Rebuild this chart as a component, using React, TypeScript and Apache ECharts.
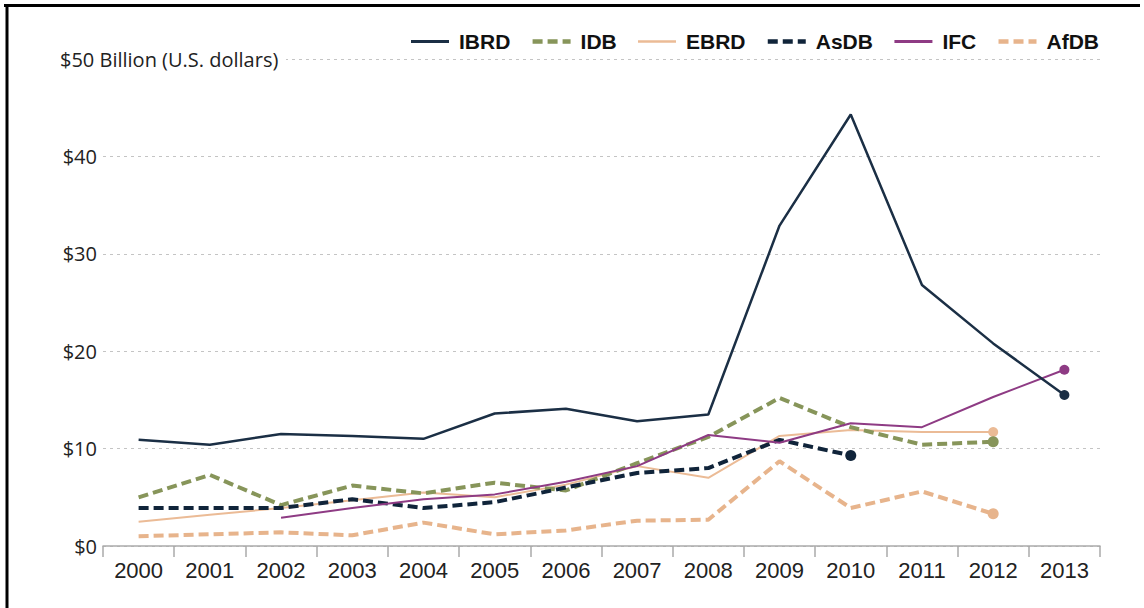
import React, { useEffect, useRef } from "react";
import * as echarts from "echarts";

const years = ["2000", "2001", "2002", "2003", "2004", "2005", "2006", "2007", "2008", "2009", "2010", "2011", "2012", "2013"];
const ibrd = [10.9, 10.4, 11.5, 11.3, 11.0, 13.6, 14.1, 12.8, 13.5, 32.9, 44.3, 26.8, 20.8, 15.5];
const idb = [5.0, 7.3, 4.2, 6.2, 5.4, 6.5, 5.7, 8.5, 11.2, 15.2, 12.2, 10.4, 10.7, null];
const ebrd = [2.5, 3.2, 3.9, 4.7, 5.5, 5.0, 6.3, 8.2, 7.0, 11.3, 11.9, 11.7, 11.7, null];
const asdb = [3.9, 3.9, 3.9, 4.8, 3.9, 4.5, 6.0, 7.5, 8.0, 10.9, 9.3, null, null, null];
const ifc = [null, null, 2.9, 3.9, 4.8, 5.3, 6.6, 8.2, 11.4, 10.6, 12.6, 12.2, 15.3, 18.1];
const afdb = [1.0, 1.2, 1.4, 1.1, 2.4, 1.2, 1.6, 2.6, 2.7, 8.7, 3.9, 5.6, 3.3, null];

const yMin = 0;
const yMax = 50;
const yStep = 10;
const yTitle = "$50 Billion (U.S. dollars)";

const SANS = '"Liberation Sans", Arial, sans-serif';
const REG = '"Open Sans", "Liberation Sans", sans-serif';

function withEndDot(arr: (number | null)[], size: number) {
  let last = -1;
  arr.forEach((v, i) => {
    if (v != null) last = i;
  });
  return arr.map((v, i) =>
    i === last ? { value: v, symbol: "circle", symbolSize: size } : v
  );
}

function mk(name: string, data: (number | null)[], color: string, width: number, dashed: boolean, z: number) {
  return {
    name,
    type: "line",
    data: withEndDot(data, dashed ? 11 : 10),
    symbol: "none",
    showSymbol: true,
    connectNulls: false,
    z,
    lineStyle: { color, width, type: dashed ? [10, 5] : "solid", cap: "butt" },
    itemStyle: { color },
    emphasis: { disabled: true },
  };
}

export default function App() {
  const ref = useRef<HTMLDivElement>(null);
  useEffect(() => {
    const chart = echarts.init(ref.current!, null, { renderer: "svg" });
    chart.setOption({
      animation: false,
      backgroundColor: "#fff",
      grid: { left: 103, right: 44, top: 59, bottom: 62, containLabel: false },
      legend: {
        right: 40,
        top: 26,
        itemWidth: 38,
        itemHeight: 14,
        itemGap: 20,
        itemStyle: { opacity: 0, borderWidth: 0 },
        textStyle: {
          fontFamily: SANS,
          fontWeight: "bold",
          fontSize: 21,
          color: "#111",
          padding: [0, 0, 0, 5],
        },
        data: [
          { name: "IBRD", lineStyle: { width: 3 } },
          { name: "IDB", lineStyle: { width: 4.5 } },
          { name: "EBRD", lineStyle: { width: 2.5 } },
          { name: "AsDB", lineStyle: { width: 4.5 } },
          { name: "IFC", lineStyle: { width: 3 } },
          { name: "AfDB", lineStyle: { width: 4.5 } },
        ],
      },
      xAxis: {
        type: "category",
        data: years,
        boundaryGap: true,
        axisLine: { show: true, lineStyle: { color: "#aaaaaa", width: 1.5 } },
        axisTick: { show: true, length: 11, interval: 0, lineStyle: { color: "#aaaaaa", width: 1.5 } },
        axisLabel: { fontFamily: SANS, fontSize: 22, color: "#222", margin: 13, interval: 0 },
        splitLine: { show: false },
      },
      yAxis: {
        type: "value",
        min: yMin,
        max: yMax,
        interval: yStep,
        axisLine: { show: false },
        axisTick: { show: false },
        axisLabel: {
          fontFamily: REG,
          fontSize: 20,
          color: "#222",
          margin: 6,
          formatter: (v: number) => (v === yMax ? "" : "$" + v),
        },
        splitLine: { show: true, lineStyle: { color: "#c4c4c4", width: 1.2, type: [3, 4] } },
      },
      graphic: [
        { type: "line", z: 20, shape: { x1: 4, y1: 5.5, x2: 1140, y2: 5.5 }, style: { stroke: "#000", lineWidth: 3 } },
        { type: "line", z: 20, shape: { x1: 7, y1: 4, x2: 7, y2: 608 }, style: { stroke: "#000", lineWidth: 3 } },
        { type: "rect", z: 20, shape: { x: 56, y: 49, width: 230, height: 20 }, style: { fill: "#fff" } },
        {
          type: "text",
          z: 21,
          x: 60,
          y: 59,
          style: { text: yTitle, font: '20px "Open Sans", "Liberation Sans", sans-serif', fill: "#222", verticalAlign: "middle" },
        },
      ],
      series: [
        mk("AfDB", afdb, "#e7b48c", 4, true, 2),
        mk("EBRD", ebrd, "#ebbb96", 2, false, 3),
        mk("IDB", idb, "#87955a", 4, true, 4),
        mk("AsDB", asdb, "#10243a", 4, true, 5),
        mk("IFC", ifc, "#8e3b84", 2, false, 6),
        mk("IBRD", ibrd, "#1b2f45", 2.5, false, 7),
      ],
    });
    return () => chart.dispose();
  }, []);
  return (
    <div
      ref={ref}
      style={{ position: "fixed", left: 0, top: 0, width: 1144, height: 608, background: "#fff" }}
    />
  );
}
